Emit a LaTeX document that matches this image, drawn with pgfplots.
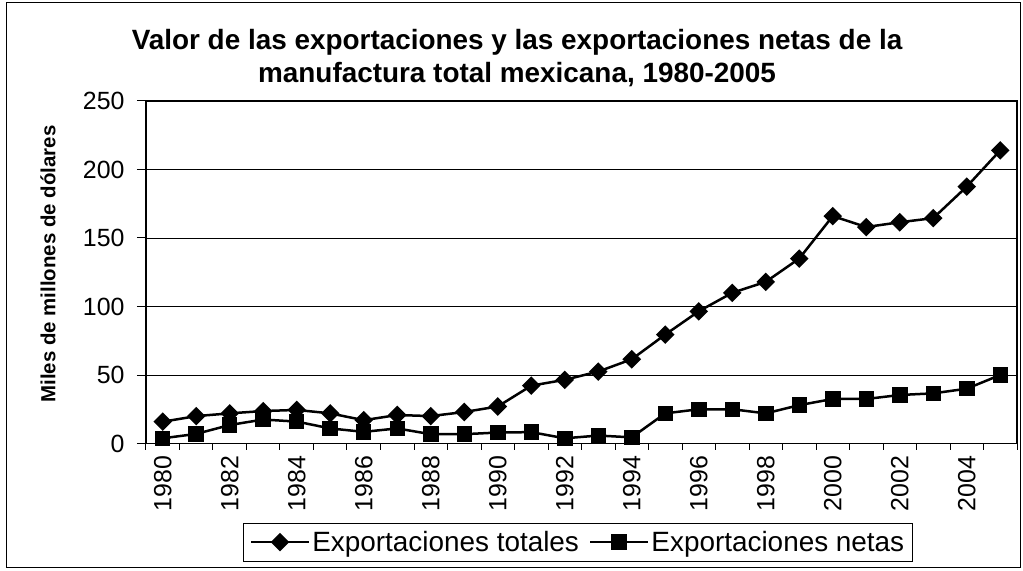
\documentclass[border=0pt]{standalone}
\usepackage{pgfplots}
\pgfplotsset{compat=1.18}
\usepackage{fontspec}
\setmainfont{Liberation Sans}
\begin{document}
\begin{tikzpicture}
\useasboundingbox (-146bp,-127.5bp) rectangle (877bp,443.5bp);
\draw[line width=0.8bp] (-140bp,-124bp) rectangle (874bp,441bp);
\begin{axis}[
  at={(0bp,0bp)}, anchor=south west,
  scale only axis, width=871bp, height=342.5bp,
  xmin=-0.5, xmax=25.5, ymin=0, ymax=250,
  ytick={0,50,100,150,200,250},
  xtick={0,2,...,24},
  xticklabels={1980,1982,1984,1986,1988,1990,1992,1994,1996,1998,2000,2002,2004},
  minor xtick={-0.5,0.5,...,25.5},
  tick pos=left,
  tick align=outside,
  x tick style={draw=none},
  minor x tick style={draw=black, line width=1bp},
  minor tick length=6bp,
  y tick style={line width=1bp, black},
  major tick length=9bp,
  ymajorgrids, grid style={black, line width=0.8bp},
  axis line style={line width=1.2bp},
  /pgf/number format/assume math mode=true,
  ticklabel style={font=\fontsize{25}{29}\selectfont},
  xticklabel style={rotate=90, anchor=east},
  yticklabel style={anchor=east, xshift=-9bp},
  title={Valor de las exportaciones y las exportaciones netas de la\\manufactura total mexicana, 1980-2005},
  title style={at={(0.426,1.108)}, anchor=center, align=center, font=\bfseries\fontsize{28}{33}\selectfont},
  ylabel={Miles de millones de dólares},
  ylabel style={at={(-0.1125,0.524)}, rotate=0, anchor=center, font=\bfseries\fontsize{20.5}{24}\selectfont},
  legend columns=2,
  legend style={at={(0.496,-0.288)}, anchor=center, draw=black, line width=0.8bp,
    font=\fontsize{28}{32}\selectfont, inner xsep=6bp, inner ysep=6bp,
    /tikz/every even column/.append style={column sep=8bp}},
  legend image code/.code={\draw[#1, mark repeat=2, mark phase=2] plot coordinates {(0bp,0bp) (29bp,0bp) (58bp,0bp)};},
]
\addplot[black, line width=2.5bp, mark=square*, mark size=5.3bp, mark options={solid, rotate=45}]
coordinates {
(0,15.9)(1,20)(2,22)(3,23.7)(4,24.5)(5,22)(6,17)(7,20.8)(8,20)(9,23)(10,27)(11,42.2)(12,46.5)(13,52.5)(14,61.5)(15,79.5)(16,96.5)(17,110)(18,118)(19,135)(20,166)(21,158)(22,161.5)(23,164.5)(24,187.5)(25,214)
};
\addlegendentry{Exportaciones totales}
\addplot[black, line width=2.5bp, mark=square*, mark size=6.5bp, mark options={solid}]
coordinates {
(0,3.8)(1,7)(2,13.5)(3,17.5)(4,16)(5,11)(6,8.5)(7,11)(8,6.8)(9,6.8)(10,8)(11,8.3)(12,3.8)(13,5.8)(14,4.5)(15,22)(16,25)(17,25)(18,22)(19,28)(20,32.5)(21,32.5)(22,35.4)(23,36.6)(24,40)(25,50)
};
\addlegendentry{Exportaciones netas}
\end{axis}
\end{tikzpicture}
\end{document}
